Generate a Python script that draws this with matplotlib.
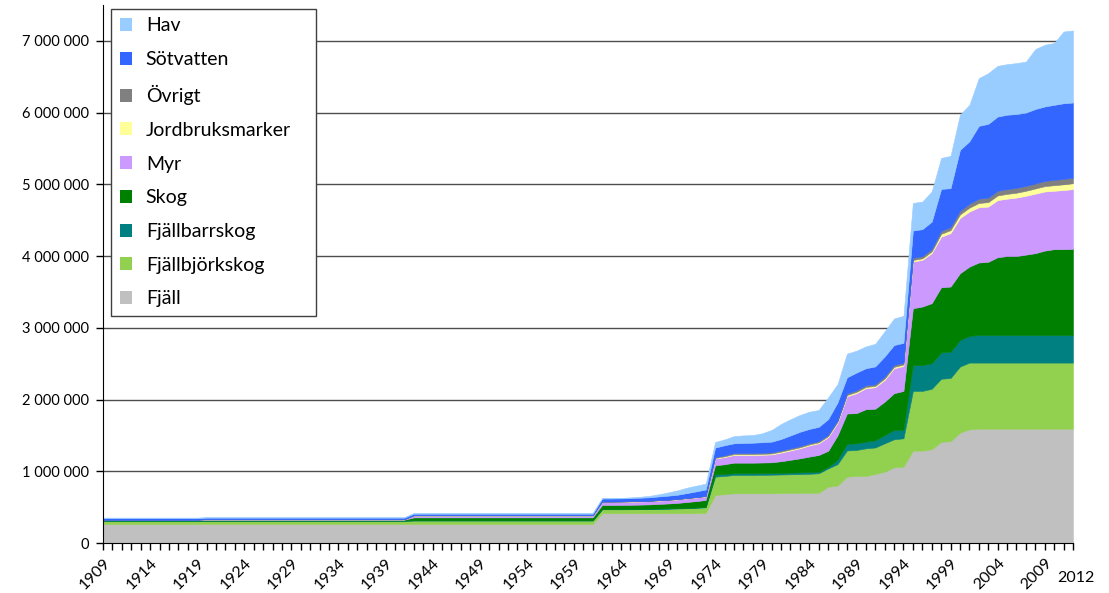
import matplotlib
matplotlib.use('Agg')
import matplotlib.pyplot as plt
from matplotlib.patches import Patch
from matplotlib.ticker import FuncFormatter, MultipleLocator

plt.rcParams['font.family'] = ['Lato', 'DejaVu Sans']

years = list(range(1909, 2013))

# arealer per år i tusental hektar
fjall = [
    265, 265, 265, 265, 265, 265, 265, 265, 265, 265, 265,
    265, 265, 265, 265, 265, 265, 265, 265, 265, 265, 265,
    265, 265, 265, 265, 265, 265, 265, 265, 265, 265, 265,
    265, 265, 265, 265, 265, 265, 265, 265, 265, 265,
    265, 265, 265, 265, 265, 265, 265, 265, 265, 265,
    415, 415, 415, 415, 415, 415, 415, 415, 415, 415, 415, 420,
    670, 680, 693, 693, 693, 693, 693, 695, 698, 700, 700, 700, 785, 800,
    925, 934, 934, 962, 995, 1055, 1064,
    1287, 1287, 1307, 1410, 1420, 1538, 1585,
    1594, 1594, 1594, 1594, 1594, 1594, 1594, 1594, 1594, 1594, 1594,
]
bjork = [
    45, 45, 45, 45, 45, 45, 45, 45, 45, 45, 45,
    45, 45, 45, 45, 45, 45, 45, 45, 45, 45, 45,
    45, 45, 45, 45, 45, 45, 45, 45, 45, 45, 45,
    48, 48, 48, 48, 48, 48, 48, 48, 48, 48,
    48, 48, 48, 48, 48, 48, 48, 48, 48, 48,
    55, 55, 55, 56, 57, 58, 60, 62, 66, 70, 74, 78,
    255, 255, 255, 255, 255, 257, 259, 260, 260, 260, 265, 272, 255, 300,
    365, 363, 386, 370, 395, 391, 396,
    833, 833, 843, 880, 880, 922, 930,
    921, 921, 921, 921, 921, 921, 921, 921, 921, 921, 921,
]
barr = [
    3, 3, 3, 3, 3, 3, 3, 3, 3, 3, 3,
    3, 3, 3, 3, 3, 3, 3, 3, 3, 3, 3,
    3, 3, 3, 3, 3, 3, 3, 3, 3, 3, 3,
    4, 4, 4, 4, 4, 4, 4, 4, 4, 4,
    4, 4, 4, 4, 4, 4, 4, 4, 4, 4,
    5, 5, 5, 5, 5, 5, 6, 6, 6, 7, 7, 8,
    32, 28, 24, 24, 24, 24, 24, 23, 24, 25, 25, 23, 20, 60,
    95, 93, 93, 100, 116, 130, 120,
    360, 360, 356, 368, 368, 370, 372,
    385, 385, 385, 385, 385, 385, 385, 385, 385, 385, 385,
]
skog = [
    5, 5, 5, 5, 5, 5, 5, 5, 5, 5, 5,
    12, 12, 12, 12, 12, 12, 12, 12, 12, 12, 12,
    12, 12, 12, 12, 12, 12, 12, 12, 12, 12, 12,
    40, 40, 40, 40, 40, 40, 40, 40, 40, 40,
    40, 40, 40, 40, 40, 40, 40, 40, 40, 40,
    55, 55, 56, 57, 58, 60, 64, 68, 72, 80, 88, 94,
    126, 135, 148, 148, 148, 148, 149, 162, 178, 195, 215, 232, 225, 340,
    420, 420, 452, 440, 464, 512, 540,
    793, 816, 837, 907, 907, 930, 966,
    1010, 1020, 1084, 1100, 1100, 1120, 1140, 1176, 1196, 1196, 1200,
]
myr = [
    4, 4, 4, 4, 4, 4, 4, 4, 4, 4, 4,
    4, 4, 4, 4, 4, 4, 4, 4, 4, 4, 4,
    4, 4, 4, 4, 4, 4, 4, 4, 4, 4, 4,
    25, 25, 25, 25, 25, 25, 25, 25, 25, 25,
    25, 25, 25, 25, 25, 25, 25, 25, 25, 25,
    42, 42, 42, 43, 44, 45, 46, 47, 48, 50, 50, 50,
    92, 100, 107, 107, 107, 108, 110, 120, 130, 140, 155, 163, 190, 175,
    240, 278, 292, 300, 303, 348, 348,
    650, 651, 697, 705, 745, 770, 767,
    770, 770, 796, 800, 815, 820, 830, 824, 814, 824, 833,
]
jord = [
    1, 1, 1, 1, 1, 1, 1, 1, 1, 1, 1,
    1, 1, 1, 1, 1, 1, 1, 1, 1, 1, 1,
    1, 1, 1, 1, 1, 1, 1, 1, 1, 1, 1,
    2, 2, 2, 2, 2, 2, 2, 2, 2, 2,
    2, 2, 2, 2, 2, 2, 2, 2, 2, 2,
    3, 3, 3, 3, 3, 3, 3, 3, 3, 3, 3, 3,
    10, 11, 12, 12, 12, 13, 13, 14, 14, 14, 14, 14, 15, 16,
    18, 18, 18, 18, 20, 20, 20,
    22, 22, 25, 40, 42, 50, 55,
    60, 62, 65, 67, 68, 70, 72, 75, 78, 80, 82,
]
ovrigt = [
    1, 1, 1, 1, 1, 1, 1, 1, 1, 1, 1,
    1, 1, 1, 1, 1, 1, 1, 1, 1, 1, 1,
    1, 1, 1, 1, 1, 1, 1, 1, 1, 1, 1,
    2, 2, 2, 2, 2, 2, 2, 2, 2, 2,
    2, 2, 2, 2, 2, 2, 2, 2, 2, 2,
    3, 3, 3, 3, 3, 3, 3, 3, 3, 3, 3, 3,
    12, 13, 15, 15, 15, 15, 15, 16, 16, 16, 16, 16, 17, 19,
    22, 22, 22, 22, 24, 25, 25,
    30, 30, 32, 40, 42, 50, 55,
    60, 62, 65, 66, 67, 68, 70, 72, 74, 76, 78,
]
sot = [
    22, 22, 22, 22, 22, 22, 22, 22, 22, 22, 22,
    22, 22, 22, 22, 22, 22, 22, 22, 22, 22, 22,
    22, 22, 22, 22, 22, 22, 22, 22, 22, 22, 22,
    22, 22, 22, 22, 22, 22, 22, 22, 22, 22,
    22, 22, 22, 22, 22, 22, 22, 22, 22, 22,
    42, 42, 43, 44, 46, 48, 52, 56, 60, 68, 80, 90,
    133, 141, 136, 141, 144, 147, 150, 160, 180, 200, 200, 200, 220, 250,
    225, 247, 239, 250, 283, 279, 277,
    381, 376, 383, 586, 542, 850, 870,
    1015, 1029, 1035, 1037, 1030, 1022, 1038, 1038, 1046, 1054, 1047,
]
hav = [
    8, 8, 8, 8, 8, 8, 8, 8, 8, 8, 8,
    8, 8, 8, 8, 8, 8, 8, 8, 8, 8, 8,
    8, 8, 8, 8, 8, 8, 8, 8, 8, 8, 8,
    12, 12, 12, 12, 12, 12, 12, 12, 12, 12,
    12, 12, 12, 12, 12, 12, 12, 12, 12, 12,
    5, 6, 8, 10, 14, 20, 30, 45, 60, 75, 80, 82,
    78, 81, 100, 105, 107, 125, 163, 210, 225, 235, 240, 235, 303, 255,
    330, 305, 304, 315, 350, 370, 376,
    384, 385, 420, 432, 451, 490, 508,
    665, 707, 707, 705, 710, 710, 835, 861, 862, 1000, 1005,
]

labels = ['Fjäll', 'Fjällbjörkskog', 'Fjällbarrskog', 'Skog', 'Myr',
          'Jordbruksmarker', 'Övrigt', 'Sötvatten', 'Hav']
colors = ['#C0C0C0', '#92D050', '#008080', '#008000', '#CC99FF',
          '#FFFF99', '#808080', '#3366FF', '#99CCFF']
series = [fjall, bjork, barr, skog, myr, jord, ovrigt, sot, hav]
series = [[v * 1000 for v in s] for s in series]

fig = plt.figure(figsize=(11.09, 5.93), dpi=100)
ax = fig.add_axes([0.0929, 0.0843, 0.8746, 0.9073])

polys = ax.stackplot(years, *series, colors=colors, lw=0)
for p, c in zip(polys, colors):
    p.set_edgecolor(c)
    p.set_linewidth(0.4)

ax.set_xlim(1909, 2012)
ax.set_ylim(0, 7500000)

ax.spines['right'].set_visible(False)
ax.spines['top'].set_visible(False)
ax.spines['left'].set_color('black')
ax.spines['bottom'].set_color('black')

ax.yaxis.set_major_locator(MultipleLocator(1000000))
ax.yaxis.set_major_formatter(FuncFormatter(lambda v, p: f'{int(v):,}'.replace(',', ' ')))
ax.yaxis.grid(True, color='#4d4d4d', lw=1)
ax.set_axisbelow(True)
ax.tick_params(axis='y', direction='out', length=5, width=1, labelsize=10.5, pad=5)

tick_years = list(range(1909, 2010, 5))
ax.set_xticks(tick_years)
ax.set_xticklabels([str(y) for y in tick_years], rotation=45, ha='right',
                   va='top', rotation_mode='anchor', fontsize=11.5)
ax.set_xticks(years, minor=True)
ax.tick_params(axis='x', which='both', direction='out', length=5, width=1, pad=4)
ax.annotate('2012', xy=(2012, 0), xycoords=('data', 'axes fraction'),
            xytext=(2, -25), textcoords='offset points', ha='center', va='center',
            fontsize=11.5)

handles = [Patch(facecolor=c, edgecolor='none') for c in colors]
leg = ax.legend(handles[::-1], labels[::-1], loc='upper left',
                bbox_to_anchor=(0.008, 0.0, 0.2113, 0.993), mode='expand',
                fontsize=14, frameon=True,
                fancybox=False, edgecolor='#404040', framealpha=1,
                handlelength=0.65, handleheight=0.65, handletextpad=0.7,
                labelspacing=0.86, borderpad=0.45, borderaxespad=0)
leg.get_frame().set_linewidth(1)

fig.savefig('out.png', dpi=100)
